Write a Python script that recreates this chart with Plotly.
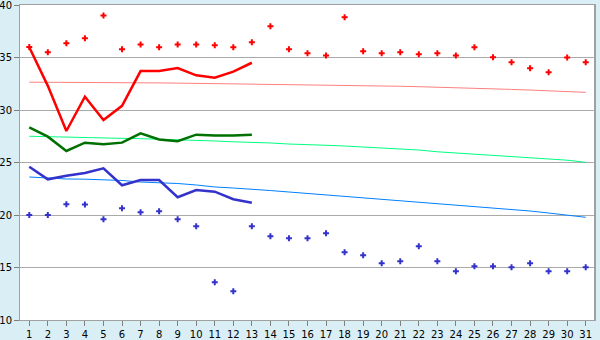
import plotly.graph_objects as go

days = list(range(1, 32))

max_temp = [36.0, 35.5, 36.35, 36.83, 39.0, 35.78, 36.25, 35.97, 36.25, 36.25,
            36.16, 35.97, 36.45, 37.97, 35.78, 35.4, 35.2, 38.83, 35.59, 35.4,
            35.5, 35.3, 35.4, 35.2, 35.97, 35.02, 34.54, 33.97, 33.59, 35.0, 34.54]
min_temp = [20.0, 20.0, 21.02, 21.0, 19.59, 20.64, 20.26, 20.35, 19.6, 18.92,
            13.59, 12.73, 18.92, 17.97, 17.78, 17.78, 18.26, 16.45, 16.16, 15.4,
            15.59, 17.02, 15.59, 14.64, 15.11, 15.11, 15.02, 15.4, 14.64, 14.64, 15.02]

days13 = list(range(1, 14))
max_line = [35.97, 32.3, 28.0, 31.27, 29.05, 30.4, 33.71, 33.71, 34.0, 33.3, 33.08, 33.65, 34.5]
mean_line = [28.35, 27.46, 26.1, 26.89, 26.73, 26.89, 27.78, 27.2, 27.02, 27.65, 27.56, 27.56, 27.65]
min_line = [24.6, 23.4, 23.74, 24.0, 24.44, 22.83, 23.33, 23.33, 21.69, 22.38, 22.22, 21.5, 21.17]

normal_max = [32.65, 32.65, 32.64, 32.63, 32.62, 32.61, 32.60, 32.58, 32.56, 32.54,
              32.52, 32.50, 32.48, 32.46, 32.44, 32.42, 32.40, 32.37, 32.34, 32.30,
              32.26, 32.22, 32.18, 32.14, 32.08, 32.02, 31.96, 31.90, 31.83, 31.76, 31.68]
normal_mean = [27.50, 27.45, 27.40, 27.37, 27.33, 27.30, 27.27, 27.23, 27.19, 27.14,
               27.05, 26.97, 26.95, 26.86, 26.76, 26.67, 26.64, 26.57, 26.48, 26.38,
               26.29, 26.19, 26.02, 25.90, 25.81, 25.71, 25.53, 25.43, 25.33, 25.22, 25.02]
normal_min = [23.62, 23.52, 23.43, 23.41, 23.38, 23.29, 23.14, 23.10, 23.00, 22.86,
              22.67, 22.57, 22.48, 22.33, 22.19, 22.05, 21.95, 21.81, 21.67, 21.52,
              21.33, 21.21, 21.07, 20.92, 20.78, 20.67, 20.52, 20.38, 20.19, 19.97, 19.78]

fig = go.Figure()

def thin(y, color):
    fig.add_trace(go.Scatter(x=days, y=y, mode="lines",
                             line=dict(color=color, width=1), hoverinfo="skip"))

thin(normal_max, "#FF8080")
thin(normal_mean, "#00FF80")
thin(normal_min, "#0080FF")

def thick(y, color):
    fig.add_trace(go.Scatter(x=days13, y=y, mode="lines",
                             line=dict(color=color, width=2.5)))

thick(max_line, "#FF0000")
thick(mean_line, "#007000")
thick(min_line, "#3333CC")

fig.add_trace(go.Scatter(x=days, y=max_temp, mode="markers",
                         marker=dict(symbol="cross", size=5, color="#FF0000", line=dict(width=0))))
fig.add_trace(go.Scatter(x=days, y=min_temp, mode="markers",
                         marker=dict(symbol="cross", size=5, color="#3333CC", line=dict(width=0))))

axis_font = dict(family="DejaVu Sans", size=10, color="#000000")
fig.update_layout(
    width=600, height=340,
    margin=dict(l=20, r=5, t=5, b=20),
    paper_bgcolor="#DAEFF5",
    plot_bgcolor="#FFFFFF",
    showlegend=False,
    xaxis=dict(range=[0.5, 31.5], tickvals=days, ticktext=[str(d) for d in days],
               showgrid=False, zeroline=False, showline=True, linecolor="#A0A0A0",
               linewidth=1, mirror=True, ticks="outside", ticklen=5, tickcolor="#808080",
               tickfont=axis_font, automargin=False, ticklabeloverflow="allow"),
    yaxis=dict(range=[10, 40], dtick=5, tick0=10, showgrid=True, gridcolor="#AAAAAA",
               gridwidth=1, zeroline=False, showline=True, linecolor="#A0A0A0",
               linewidth=1, mirror=True, ticks="outside", ticklen=5, tickcolor="#808080",
               tickfont=axis_font, automargin=False, ticklabeloverflow="allow"),
    shapes=[dict(type="line", xref="paper", yref="paper", x0=1, x1=1, y0=0, y1=1,
                 line=dict(color="#A0A0A0", width=2))],
)

fig.write_html("out.html")
